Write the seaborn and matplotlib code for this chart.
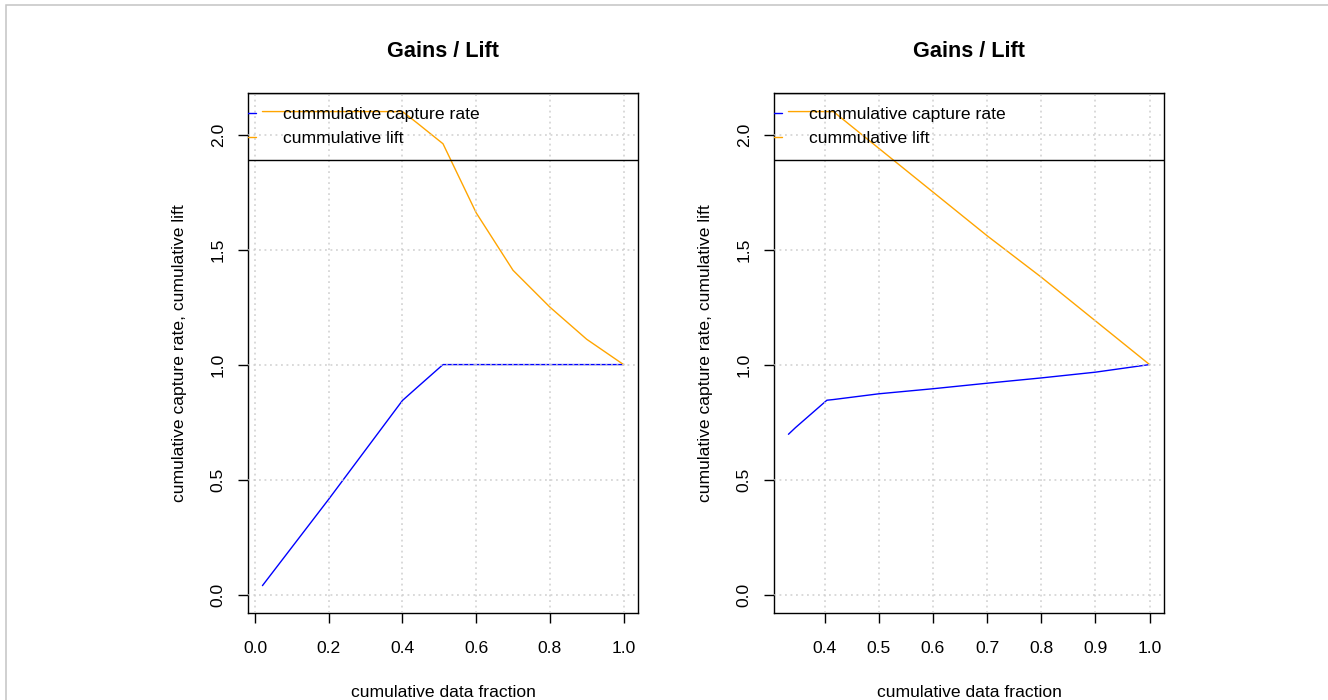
import matplotlib
matplotlib.use("Agg")
import matplotlib.pyplot as plt
from matplotlib.patches import Rectangle
import seaborn as sns
import pandas as pd

# Gains / lift tables for the two models
left_fraction = [0.02, 0.2, 0.4, 0.44, 0.51, 0.6, 0.7, 0.8, 0.9, 1.0]
left_capture = [0.039, 0.415, 0.844, 0.901, 1.0, 1.0, 1.0, 1.0, 1.0, 1.0]
left_lift = [2.10, 2.10, 2.10, 2.05, 1.96, 1.66, 1.41, 1.25, 1.11, 1.0]

right_fraction = [0.333, 0.346, 0.404, 0.416, 0.5, 0.6, 0.7, 0.8, 0.9, 1.0]
right_capture = [0.697, 0.726, 0.845, 0.848, 0.873, 0.895, 0.919, 0.942, 0.967, 1.0]
right_lift = [2.10, 2.10, 2.10, 2.10, 1.94, 1.75, 1.56, 1.38, 1.19, 1.0]

left_xticks = [0.0, 0.2, 0.4, 0.6, 0.8, 1.0]
right_xticks = [0.4, 0.5, 0.6, 0.7, 0.8, 0.9, 1.0]
yticks = [0.0, 0.5, 1.0, 1.5, 2.0]

title = "Gains / Lift"
xlabel = "cumulative data fraction"
ylabel = "cumulative capture rate, cumulative lift"
legend_labels = ["cummulative capture rate", "cummulative lift"]

sns.set_style("white")
plt.rcParams["font.family"] = ["Liberation Sans", "DejaVu Sans"]
plt.rcParams["text.color"] = "black"
plt.rcParams["axes.labelcolor"] = "black"
plt.rcParams["xtick.color"] = "black"
plt.rcParams["ytick.color"] = "black"

FS = 12.6
W, H = 1328, 700
fig = plt.figure(figsize=(W / 100, H / 100), dpi=100)

# thin grey frame around the canvas
fig.patches.append(Rectangle((5.5 / W, -0.02), 1.05, 1 - 4.5 / H + 0.02,
                             transform=fig.transFigure, fill=False,
                             edgecolor="#c4c4c4", linewidth=1.1))

ax_top = 92.7
ax_bot = 613.0
ax_h = (ax_bot - ax_top) / H
ax_y0 = 1 - ax_bot / H
ax_w = 390 / W

panels = [
    (248 / W, left_fraction, left_capture, left_lift, left_xticks),
    (774 / W, right_fraction, right_capture, right_lift, right_xticks),
]

for x0, frac, cap, lift, xt in panels:
    ax = fig.add_axes([x0, ax_y0, ax_w, ax_h])
    df = pd.DataFrame({"fraction": frac, "capture": cap, "lift": lift})
    sns.lineplot(data=df, x="fraction", y="capture", ax=ax, color="blue",
                 linewidth=1.0, estimator=None, sort=True, zorder=2)
    sns.lineplot(data=df, x="fraction", y="lift", ax=ax, color="orange",
                 linewidth=1.0, estimator=None, sort=True, zorder=2)

    span = frac[-1] - frac[0]
    ax.set_xlim(frac[0] - 0.04 * span, frac[-1] + 0.04 * span)
    ax.set_ylim(-0.08, 2.182)
    ax.set_xticks(xt)
    ax.set_xticklabels([f"{v:.1f}" for v in xt])
    ax.set_yticks(yticks)
    ax.set_yticklabels([f"{v:.1f}" for v in yticks], rotation=90, va="center")

    # dotted grid drawn over the curves
    ax.set_axisbelow(False)
    ax.grid(True, color="#cfcfcf", linestyle=(0, (1.2, 2.4)), linewidth=1.1,
            zorder=3)

    for s in ax.spines.values():
        s.set_visible(True)
        s.set_color("black")
        s.set_linewidth(1.0)
    ax.tick_params(axis="both", which="major", direction="out", length=7,
                   width=1.0, color="black", labelsize=FS, labelcolor="black",
                   bottom=True, left=True)
    ax.tick_params(axis="x", pad=13.5)
    ax.tick_params(axis="y", pad=9)

    ax.set_title(title, fontsize=15.6, fontweight="bold", pad=26,
                 color="black")
    ax.set_xlabel(xlabel, fontsize=FS)
    ax.set_ylabel(ylabel, fontsize=FS)
    ax.xaxis.set_label_coords(0.5, -0.138)
    ax.yaxis.set_label_coords(-0.156, 0.5)

    # legend box, wider than the plot region and clipped to it
    handles = ax.get_lines()[:2]
    leg = ax.legend(handles, legend_labels, loc="upper left",
                    bbox_to_anchor=(-0.105, 0.0, 1.4, 1.0), mode="expand",
                    borderaxespad=0.0, fontsize=FS, frameon=True,
                    fancybox=False, framealpha=1.0, handlelength=2.0,
                    handletextpad=1.54, borderpad=0.8, labelspacing=0.5)
    for t in leg.get_texts():
        t.set_color("black")
    frame = leg.get_frame()
    frame.set_facecolor("none")
    frame.set_edgecolor("black")
    frame.set_linewidth(1.0)
    frame.set_clip_box(ax.bbox)
    frame.set_clip_on(True)
    for ln in leg.get_lines():
        ln.set_clip_box(ax.bbox)
        ln.set_clip_on(True)

fig.savefig("out.png", dpi=100)
